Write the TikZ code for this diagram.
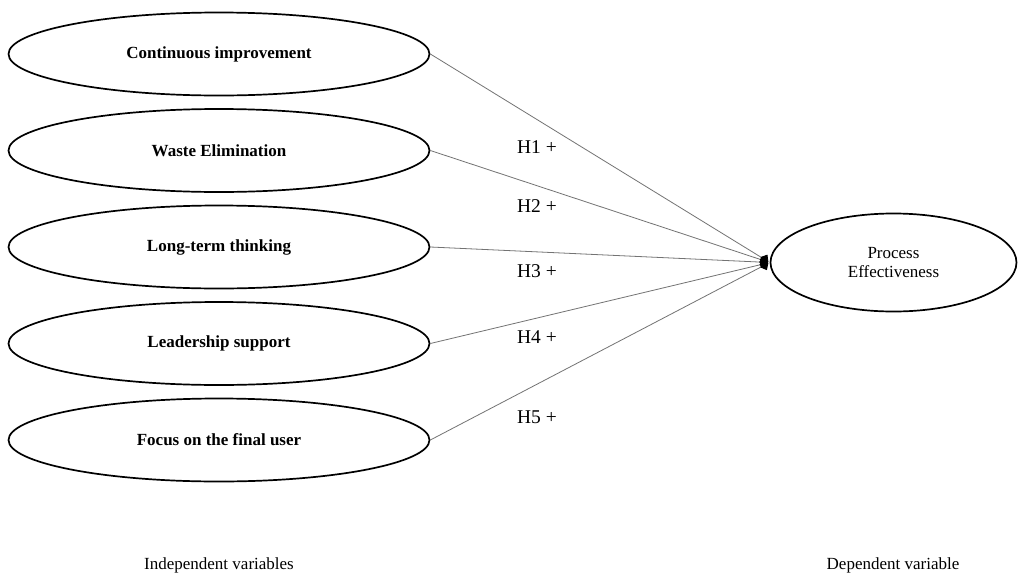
\documentclass[tikz,border=0pt]{standalone}
\usepackage{fontspec}
\setmainfont{Liberation Serif}
\usetikzlibrary{shapes.geometric,arrows.meta}
\begin{document}
\begin{tikzpicture}[x=1pt,y=-1pt,
  indep/.style={ellipse,draw=black,line width=1.7pt,minimum width=421pt,minimum height=83pt,inner sep=0pt,
     font=\fontsize{17}{19}\selectfont\bfseries},
  dep/.style={ellipse,draw=black,line width=1.7pt,minimum width=246pt,minimum height=98pt,inner sep=0pt,
     align=center,font=\fontsize{17}{19.5}\selectfont},
  link/.style={draw=black!55,line width=0.8pt,-{Diamond[length=9pt,width=11pt,color=black]},shorten >=1.5pt},
  hlab/.style={font=\fontsize{19.5}{22}\selectfont,inner sep=0pt},
  foot/.style={font=\fontsize{17}{19}\selectfont,inner sep=0pt}]
\useasboundingbox (0,0) rectangle (1018,576);
\fill[white] (0,0) rectangle (1018,576);
\node[indep] (c1) at (219,54) {Continuous improvement};
\node[indep] (c2) at (219,150.5) {Waste Elimination};
\node[indep] (c3) at (219,247) {Long-term thinking};
\node[indep] (c4) at (219,343.5) {Leadership support};
\node[indep] (c5) at (219,440) {Focus on the final user};
\node[dep] (pe) at (893.5,262.5) {Process\\Effectiveness};
\foreach \i in {1,...,5} \draw[link] (c\i.east) -- (pe.west);
\node[hlab] (h1) at (537,147) {H1 +};
\node[hlab] (h2) at (537,206) {H2 +};
\node[hlab] (h3) at (537,271) {H3 +};
\node[hlab] (h4) at (537,337) {H4 +};
\node[hlab] (h5) at (537,417) {H5 +};
\node[foot] (iv) at (219,565) {Independent variables};
\node[foot] (dv) at (893,565) {Dependent variable};
\end{tikzpicture}
\end{document}
